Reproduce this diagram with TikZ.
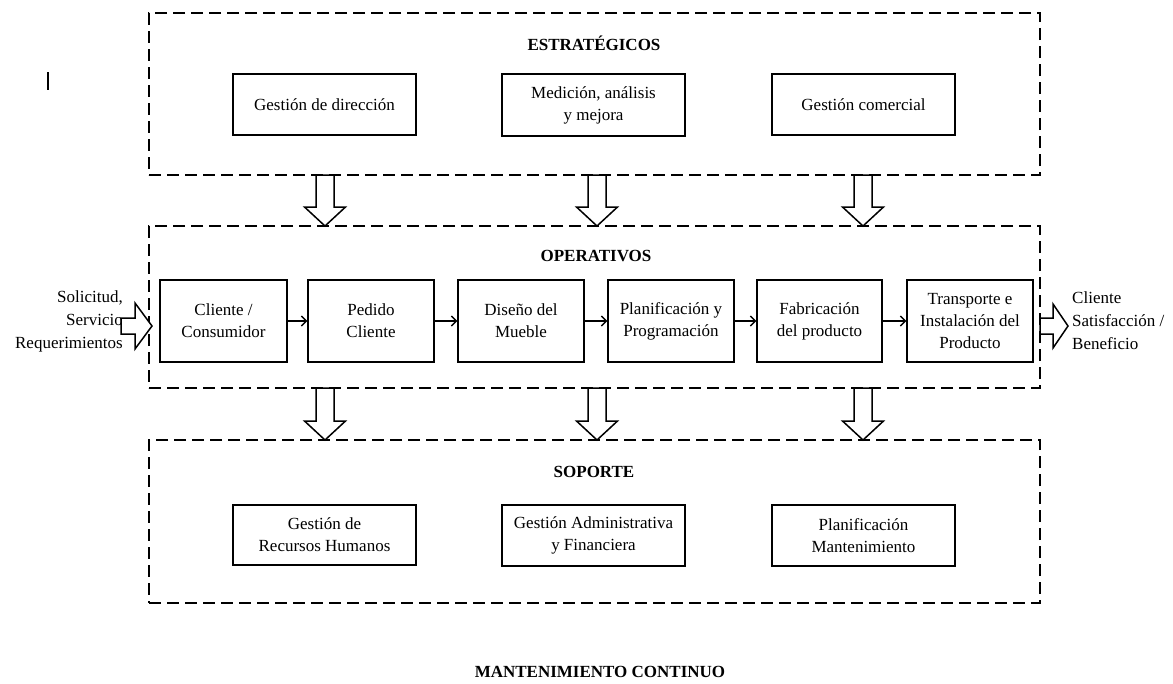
\documentclass[tikz,border=0pt]{standalone}
\usepackage{fontspec}
\setmainfont{Liberation Serif}
\usetikzlibrary{arrows.meta}
\tikzset{
  dashbox/.style={draw, dash pattern=on 12pt off 6pt, line width=1.8pt},
  procbox/.style={draw, line width=1.3pt, align=center, inner sep=0pt, font=\fontsize{17}{22}\selectfont},
  title/.style={font=\fontsize{17}{22}\selectfont\bfseries, inner sep=0pt},
  sidetext/.style={font=\fontsize{17}{23}\selectfont, inner sep=0pt},
  blk/.style={draw, line width=1.5pt, fill=white, line join=miter},
  flow/.style={line width=1.4pt, -{Straight Barb[length=5pt,width=10pt,line width=1.4pt]}}
}
\newcommand\blkdown[4]{% x, top y, head y, tip y
  \draw[blk] (#1-9,#2) -- (#1+9,#2) -- (#1+9,#3) -- (#1+20.5,#3) -- (#1,#4) -- (#1-20.5,#3) -- (#1-9,#3) -- cycle;}
\newcommand\blkright[5]{% center y, start x, head x, tip x
  \draw[blk] (#2,#1-8) -- (#3,#1-8) -- (#3,#1-#5) -- (#4,#1) -- (#3,#1+#5) -- (#3,#1+8) -- (#2,#1+8) -- cycle;}
\begin{document}
\begin{tikzpicture}[x=1pt,y=-1pt]
\useasboundingbox (0,0) rectangle (1173,683);
% stray mark
\draw[line width=1.3pt] (48,72) -- (48,90);

% group frames
\node[dashbox, minimum width=891pt, minimum height=162pt, inner sep=0pt] (strat) at (594.5,94) {};
\node[dashbox, minimum width=891pt, minimum height=162pt, inner sep=0pt] (oper) at (594.5,307) {};
\node[dashbox, minimum width=891pt, minimum height=163pt, inner sep=0pt] (sop) at (594.5,521.5) {};

% titles
\node[title] (tstrat) at (594,43) {ESTRATÉGICOS};
\node[title] (toper) at (596,256) {OPERATIVOS};
\node[title] (tsop) at (594,472) {SOPORTE};
\node[title] (tmant) at (600,672) {MANTENIMIENTO CONTINUO};

% strategic boxes
\node[procbox, minimum width=183pt, minimum height=61pt] (s1) at (324.5,104.5) {Gestión de dirección};
\node[procbox, minimum width=183pt, minimum height=62pt] (s2) at (593.5,105) {Medición, análisis\\y mejora};
\node[procbox, minimum width=183pt, minimum height=61pt] (s3) at (863.5,104.5) {Gestión comercial};

% process boxes
\node[procbox, minimum width=127pt, minimum height=82pt] (p1) at (223.5,321) {Cliente /\\Consumidor};
\node[procbox, minimum width=126pt, minimum height=82pt] (p2) at (371,321) {Pedido\\Cliente};
\node[procbox, minimum width=126pt, minimum height=82pt] (p3) at (521,321) {Diseño del\\Mueble};
\node[procbox, minimum width=126pt, minimum height=82pt] (p4) at (671,321) {Planificación y\\Programación};
\node[procbox, minimum width=125pt, minimum height=82pt] (p5) at (819.5,321) {Fabricación\\del producto};
\node[procbox, minimum width=126pt, minimum height=82pt] (p6) at (970,321) {Transporte e\\Instalación del\\Producto};

\draw[flow] (p1.east) -- (p2.west);
\draw[flow] (p2.east) -- (p3.west);
\draw[flow] (p3.east) -- (p4.west);
\draw[flow] (p4.east) -- (p5.west);
\draw[flow] (p5.east) -- (p6.west);

% support boxes
\node[procbox, minimum width=183pt, minimum height=60pt] (u1) at (324.5,535) {Gestión de\\Recursos Humanos};
\node[procbox, minimum width=183pt, minimum height=61pt] (u2) at (593.5,535.5) {Gestión Administrativa\\y Financiera};
\node[procbox, minimum width=183pt, minimum height=61pt] (u3) at (863.5,535.5) {Planificación\\Mantenimiento};

% block arrows down
\blkdown{325}{175}{207}{226}
\blkdown{597}{175}{207}{226}
\blkdown{863}{175}{207}{226}
\blkdown{325}{388}{421}{440}
\blkdown{597}{388}{421}{440}
\blkdown{863}{388}{421}{440}

% input / output
\node[sidetext, anchor=east, align=right] (in) at (123,321) {Solicitud,\\Servicio\\Requerimientos};
\node[sidetext, anchor=west, align=left] (out) at (1072,321) {Cliente\\Satisfacción /\\Beneficio};
\blkright{326}{121}{135}{152}{23}
\blkright{326}{1040}{1053}{1068}{22}
\end{tikzpicture}
\end{document}
